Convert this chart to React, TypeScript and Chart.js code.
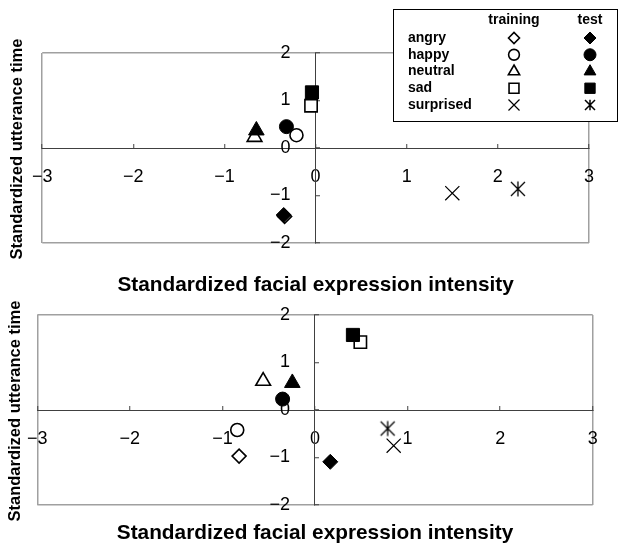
import React, { useEffect, useRef } from 'react';
import { Chart, registerables } from 'chart.js';
import { drawPoint } from 'chart.js/helpers';

Chart.register(...registerables);

// ---------- data ----------
const CATEGORIES = ['angry', 'happy', 'neutral', 'sad', 'surprised'];
const LEGEND_HEADERS = ['training', 'test'];
const X_TICKS = ['−3', '−2', '−1', '0', '1', '2', '3'];
const Y_TICKS = ['−2', '−1', '0', '1', '2'];
const X_TITLE = 'Standardized facial expression intensity';
const Y_TITLE = 'Standardized utterance time';

// upper panel
const TOP_TRAIN_X = [-0.34, -0.21, -0.67, -0.05, 1.5];
const TOP_TRAIN_Y = [-1.44, 0.27, 0.23, 0.89, -0.95];
const TOP_TEST_X = [-0.35, -0.32, -0.65, -0.04, 2.22];
const TOP_TEST_Y = [-1.41, 0.45, 0.37, 1.17, -0.86];

// lower panel
const BOT_TRAIN_X = [-0.82, -0.84, -0.56, 0.49, 0.85];
const BOT_TRAIN_Y = [-0.97, -0.42, 0.61, 1.43, -0.75];
const BOT_TEST_X = [0.165, -0.35, -0.245, 0.41, 0.785];
const BOT_TEST_Y = [-1.09, 0.23, 0.57, 1.58, -0.39];

// ---------- styles ----------
const FONT = 'Liberation Sans';
const FRAME = '#a0a0a0';
const AXIS = '#404040';

function makeAsterisk(half: number, lw: number): HTMLCanvasElement {
  const c = document.createElement('canvas');
  const s = Math.ceil(half * 2 + 4);
  c.width = s;
  c.height = s;
  const g = c.getContext('2d')!;
  const m = s / 2;
  g.strokeStyle = '#000';
  g.lineWidth = lw;
  g.beginPath();
  g.moveTo(m - half, m - half);
  g.lineTo(m + half, m + half);
  g.moveTo(m + half, m - half);
  g.lineTo(m - half, m + half);
  g.moveTo(m, m - half * 1.07);
  g.lineTo(m, m + half * 1.07);
  g.stroke();
  return c;
}

function markerStyles() {
  const train = [
    { pointStyle: 'rectRot', pointRadius: 7, legendRadius: 5.5, pointBackgroundColor: '#fff', pointBorderColor: '#000', pointBorderWidth: 1.6 },
    { pointStyle: 'circle', pointRadius: 6.5, legendRadius: 5.4, pointBackgroundColor: '#fff', pointBorderColor: '#000', pointBorderWidth: 1.6 },
    { pointStyle: 'triangle', pointRadius: 8.5, legendRadius: 6.5, pointBackgroundColor: '#fff', pointBorderColor: '#000', pointBorderWidth: 1.6 },
    { pointStyle: 'rect', pointRadius: 8.7, legendRadius: 7, pointBackgroundColor: '#fff', pointBorderColor: '#000', pointBorderWidth: 1.6 },
    { pointStyle: 'crossRot', pointRadius: 10, legendRadius: 7.8, pointBackgroundColor: '#000', pointBorderColor: '#000', pointBorderWidth: 1.2 },
  ];
  const test = [
    { pointStyle: 'rectRot', pointRadius: 7.5, legendRadius: 6, pointBackgroundColor: '#000', pointBorderColor: '#000', pointBorderWidth: 1 },
    { pointStyle: 'circle', pointRadius: 7, legendRadius: 6, pointBackgroundColor: '#000', pointBorderColor: '#000', pointBorderWidth: 1 },
    { pointStyle: 'triangle', pointRadius: 9, legendRadius: 6.8, pointBackgroundColor: '#000', pointBorderColor: '#000', pointBorderWidth: 1 },
    { pointStyle: 'rect', pointRadius: 9.3, legendRadius: 7.3, pointBackgroundColor: '#000', pointBorderColor: '#000', pointBorderWidth: 1 },
    { pointStyle: makeAsterisk(7, 1.3), legendStyle: makeAsterisk(5, 1.5), pointRadius: 8, legendRadius: 6, pointBackgroundColor: '#000', pointBorderColor: '#000', pointBorderWidth: 1 },
  ];
  return { train, test };
}

function buildDatasets(trainX: number[], trainY: number[], testX: number[], testY: number[]) {
  const { train, test } = markerStyles();
  const out: any[] = [];
  CATEGORIES.forEach((c, i) => {
    out.push({
      label: c + ' training',
      data: [{ x: trainX[i], y: trainY[i] }],
      ...train[i],
      pointHoverRadius: train[i].pointRadius,
      order: c === 'happy' ? -1 : 1,
    });
    out.push({
      label: c + ' test',
      data: [{ x: testX[i], y: testY[i] }],
      ...test[i],
      pointHoverRadius: test[i].pointRadius,
      order: 0,
    });
  });
  return out;
}

const tableLegend = {
  id: 'tableLegend',
  afterDraw(chart: any) {
    const ctx = chart.ctx as CanvasRenderingContext2D;
    const ds = chart.data.datasets;
    ctx.save();
    ctx.fillStyle = '#fff';
    ctx.fillRect(393.5, 9.5, 224, 112);
    ctx.strokeStyle = '#000';
    ctx.lineWidth = 1;
    ctx.strokeRect(393.5, 9.5, 224, 112);
    ctx.fillStyle = '#000';
    ctx.font = `bold 14px "${FONT}"`;
    ctx.textBaseline = 'middle';
    ctx.textAlign = 'center';
    const colX = [514, 590];
    ctx.fillText(LEGEND_HEADERS[0], colX[0], 20);
    ctx.fillText(LEGEND_HEADERS[1], colX[1], 20);
    CATEGORIES.forEach((c, i) => {
      const y = 38 + i * 16.75;
      ctx.textAlign = 'left';
      ctx.fillStyle = '#000';
      ctx.fillText(c, 408, y);
      [ds[2 * i], ds[2 * i + 1]].forEach((d: any, k: number) => {
        ctx.save();
        ctx.fillStyle = d.pointBackgroundColor;
        ctx.strokeStyle = d.pointBorderColor;
        ctx.lineWidth = d.pointBorderWidth;
        drawPoint(ctx, {
          pointStyle: d.legendStyle || d.pointStyle,
          radius: d.legendRadius,
          borderWidth: d.pointBorderWidth,
          rotation: 0,
        } as any, colX[k], y);
        ctx.restore();
      });
    });
    ctx.restore();
  },
};

// vertical axis title, centred on the chart area, not squeezed to its height
const yTitlePlugin = {
  id: 'yTitle',
  afterDraw(chart: any, _args: any, opts: any) {
    const ctx = chart.ctx as CanvasRenderingContext2D;
    const area = chart.chartArea;
    ctx.save();
    ctx.translate(opts.x, (area.top + area.bottom) / 2 + (opts.dy || 0));
    ctx.rotate(-Math.PI / 2);
    ctx.fillStyle = '#000';
    ctx.font = `bold ${opts.size}px "${FONT}"`;
    ctx.textAlign = 'center';
    ctx.textBaseline = 'middle';
    ctx.fillText(opts.text, 0, 0);
    ctx.restore();
  },
};

type PanelProps = {
  height: number;
  trainX: number[];
  trainY: number[];
  testX: number[];
  testY: number[];
  padding: { top: number; right: number; bottom: number; left: number };
  yTitleX: number;
  xTitlePad: { top: number; bottom: number };
  legend: boolean;
};

function Panel(p: PanelProps) {
  const ref = useRef<HTMLCanvasElement>(null);
  useEffect(() => {
    const tickFont = { family: FONT, size: 18, lineHeight: 1.2 };
    const gridColor = (edges: number[]) => (ctx: any) =>
      ctx.tick && edges.includes(ctx.tick.value) ? FRAME : 'rgba(0,0,0,0)';
    const chart = new Chart(ref.current!, {
      type: 'scatter',
      data: { datasets: buildDatasets(p.trainX, p.trainY, p.testX, p.testY) },
      plugins: p.legend ? [yTitlePlugin, tableLegend] : [yTitlePlugin],
      options: {
        animation: false,
        responsive: false,
        events: [],
        layout: { padding: p.padding },
        scales: {
          x: {
            type: 'linear',
            position: 'center',
            min: -3,
            max: 3,
            afterFit: (s: any) => {
              s.height = 0;
              s.paddingLeft = 0;
              s.paddingRight = 0;
            },
            ticks: {
              stepSize: 1,
              autoSkip: false,
              maxRotation: 0,
              minRotation: 0,
              padding: 23.2,
              color: '#000',
              font: tickFont,
              callback: (_v: any, i: number) => X_TICKS[i],
            },
            grid: {
              drawOnChartArea: true,
              color: gridColor([-3, 3]),
              lineWidth: 1.5,
              tickLength: -5,
              tickColor: AXIS,
              tickWidth: 1,
            },
            border: { display: true, color: AXIS, width: 1 },
          },
          y: {
            type: 'linear',
            position: 'center',
            min: -2,
            max: 2,
            afterFit: (s: any) => {
              s.width = 0;
              s.paddingTop = 0;
              s.paddingBottom = 0;
            },
            ticks: {
              stepSize: 1,
              autoSkip: false,
              padding: 30,
              color: '#000',
              font: tickFont,
              callback: (_v: any, i: number) => Y_TICKS[i],
            },
            grid: {
              drawOnChartArea: true,
              color: gridColor([-2, 2]),
              lineWidth: 1.5,
              tickLength: -5,
              tickColor: AXIS,
              tickWidth: 1,
            },
            border: { display: true, color: AXIS, width: 1 },
          },
        },
        plugins: {
          legend: { display: false },
          tooltip: { enabled: false },
          title: { display: false },
          yTitle: { text: Y_TITLE, x: p.yTitleX, size: 16.5, dy: 1 },
          subtitle: {
            display: true,
            position: 'bottom',
            fullSize: false,
            text: X_TITLE,
            color: '#000',
            font: { family: FONT, size: 20.8, weight: 'bold', lineHeight: 1.2 },
            padding: p.xTitlePad,
          },
        },
      } as any,
    });
    return () => chart.destroy();
  }, []);
  return (
    <canvas
      ref={ref}
      width={619}
      height={p.height}
      style={{ display: 'block', width: 619, height: p.height }}
    />
  );
}

export default function App() {
  return (
    <div style={{ position: 'absolute', left: 0, top: 0, width: 619, height: 547, background: '#fff' }}>
      <Panel
        height={300}
        trainX={TOP_TRAIN_X}
        trainY={TOP_TRAIN_Y}
        testX={TOP_TEST_X}
        testY={TOP_TEST_Y}
        padding={{ top: 53, right: 30, bottom: 2.5, left: 42.2 }}
        yTitleX={17}
        xTitlePad={{ top: 29.5, bottom: 0 }}
        legend={true}
      />
      <Panel
        height={247}
        trainX={BOT_TRAIN_X}
        trainY={BOT_TRAIN_Y}
        testX={BOT_TEST_X}
        testY={BOT_TEST_Y}
        padding={{ top: 15, right: 26.3, bottom: 1.5, left: 37.3 }}
        yTitleX={15}
        xTitlePad={{ top: 15.5, bottom: 0 }}
        legend={false}
      />
    </div>
  );
}
